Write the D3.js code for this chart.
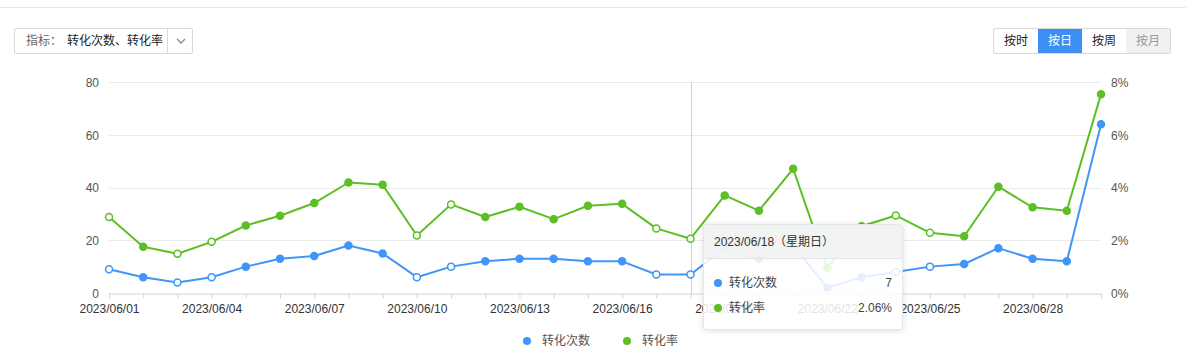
<!DOCTYPE html>
<html lang="zh">
  <head>
    <meta charset="utf-8" />
    <title>转化次数 / 转化率</title>
    <script src="https://d3js.org/d3.v7.min.js"></script>
    <style>
      body {
        margin: 0;
        background: #fff;
        font-family: 'Helvetica Neue', Arial, 'Liberation Sans', 'Noto Sans CJK SC', sans-serif;
      }
      #wrap {
        position: relative;
        width: 1186px;
        height: 352px;
        overflow: hidden;
      }
      svg {
        position: absolute;
        left: 0;
        top: 0;
        display: block;
      }
      .axis text {
        font-size: 12px;
      }
      /* metric selector */
      .select {
        position: absolute;
        left: 14px;
        top: 28px;
        width: 177px;
        height: 24px;
        border: 1px solid #d9d9d9;
        border-radius: 2px;
        font-size: 12px;
        line-height: 24px;
        box-sizing: content-box;
      }
      .select .lbl { position: absolute; left: 11px; color: #666; }
      .select .val { position: absolute; left: 52px; color: #222; }
      .select .sep {
        position: absolute;
        left: 152px;
        top: 0;
        height: 24px;
        border-left: 1px solid #d9d9d9;
      }
      .select svg { left: 160px; top: 7px; }
      /* granularity buttons */
      .btns {
        position: absolute;
        left: 993px;
        top: 28px;
        height: 24px;
        display: flex;
        border: 1px solid #d9d9d9;
        border-radius: 2px;
        font-size: 12px;
      }
      .btns div {
        width: 44px;
        line-height: 24px;
        text-align: center;
        color: #222;
      }
      .btns .on { background: #3d8ff5; color: #fff; }
      .btns .off { background: #f0f1f2; color: #999; }
      /* tooltip */
      .tooltip {
        position: absolute;
        left: 703px;
        top: 224px;
        width: 198px;
        height: 104px;
        background: rgba(255, 255, 255, 0.86);
        border: 1px solid #e6e6e6;
        border-radius: 3px;
        box-shadow: 0 1px 6px rgba(0, 0, 0, 0.12);
        font-size: 12px;
        color: #444;
      }
      .tooltip .head {
        height: 33px;
        line-height: 34px;
        padding-left: 10px;
        background: rgba(240, 242, 242, 0.85);
        border-bottom: 1px solid #e3e3e3;
        color: #333;
      }
      .tooltip .row {
        position: absolute;
        left: 10px;
        right: 10px;
        height: 20px;
        line-height: 20px;
      }
      .tooltip .dot {
        display: inline-block;
        width: 8px;
        height: 8px;
        border-radius: 50%;
        margin-right: 7px;
        vertical-align: -0px;
      }
      .tooltip .num { position: absolute; right: 0; top: 0; }
    </style>
  </head>

  <body>
    <div id="wrap"></div>

    <script>
      /* ----------------------------- DATA ----------------------------- */
      const dates = [
        '2023/06/01', '2023/06/02', '2023/06/03', '2023/06/04', '2023/06/05',
        '2023/06/06', '2023/06/07', '2023/06/08', '2023/06/09', '2023/06/10',
        '2023/06/11', '2023/06/12', '2023/06/13', '2023/06/14', '2023/06/15',
        '2023/06/16', '2023/06/17', '2023/06/18', '2023/06/19', '2023/06/20',
        '2023/06/21', '2023/06/22', '2023/06/23', '2023/06/24', '2023/06/25',
        '2023/06/26', '2023/06/27', '2023/06/28', '2023/06/29', '2023/06/30',
      ];
      // 转化次数 (left axis)
      const counts = [
        9, 6, 4, 6, 10, 13, 14, 18, 15, 6,
        10, 12, 13, 13, 12, 12, 7, 7, 17, 13,
        18, 2, 6, 8, 10, 11, 17, 13, 12, 64,
      ];
      // 转化率 in % (right axis)
      const rates = [
        2.88, 1.75, 1.49, 1.94, 2.56, 2.93, 3.41, 4.19, 4.10, 2.18,
        3.36, 2.88, 3.27, 2.80, 3.31, 3.38, 2.45, 2.06, 3.70, 3.12,
        4.71, 0.96, 2.53, 2.94, 2.28, 2.15, 4.03, 3.25, 3.12, 7.54,
      ];
      // days drawn with hollow markers
      const hollowDates = [
        '2023/06/01', '2023/06/03', '2023/06/04', '2023/06/10', '2023/06/11',
        '2023/06/17', '2023/06/18', '2023/06/24', '2023/06/25',
      ];
      const xTickLabels = [
        '2023/06/01', '2023/06/04', '2023/06/07', '2023/06/10', '2023/06/13',
        '2023/06/16', '2023/06/19', '2023/06/22', '2023/06/25', '2023/06/28',
      ];
      const leftTicks = [0, 20, 40, 60, 80];
      const rightTicks = [0, 2, 4, 6, 8];
      const seriesNames = ['转化次数', '转化率'];
      const hoverDate = '2023/06/18';
      const hoverWeekday = '星期日';

      /* ---------------------------- CONFIG ---------------------------- */
      const W = 1186,
        H = 352,
        m = { t: 82, r: 85, b: 59, l: 109 },
        w = W - m.l - m.r,
        h = H - m.t - m.b;
      const blue = '#3f96f7',
        green = '#5cbf24';

      const wrap = d3.select('#wrap');
      const root = wrap.append('svg').attr('width', W).attr('height', H);

      // thin rule across the top
      root
        .append('line')
        .attr('x1', 0)
        .attr('x2', W)
        .attr('y1', 7.5)
        .attr('y2', 7.5)
        .attr('stroke', '#e8e8e8');

      const svg = root.append('g').attr('transform', `translate(${m.l},${m.t})`);

      /* ---------------------------- SCALES ---------------------------- */
      const x = d3.scalePoint().domain(dates).range([0, w]);
      const yL = d3.scaleLinear().domain([0, 80]).range([h, 0]);
      const yR = d3.scaleLinear().domain([0, 8]).range([h, 0]);

      /* ----------------------------- GRID ----------------------------- */
      svg
        .append('g')
        .selectAll('line')
        .data(leftTicks.slice(1))
        .join('line')
        .attr('x1', 0)
        .attr('x2', w)
        .attr('y1', (d) => Math.round(yL(d)) + 0.5)
        .attr('y2', (d) => Math.round(yL(d)) + 0.5)
        .attr('stroke', '#ebebeb');

      /* ----------------------------- AXES ----------------------------- */
      const xAxis = svg
        .append('g')
        .attr('class', 'axis')
        .attr('transform', `translate(0,${h + 0.5})`)
        .call(d3.axisBottom(x).tickSize(5).tickPadding(6).tickFormat((d) => (xTickLabels.includes(d) ? d : '')));
      xAxis.select('.domain').attr('stroke', '#d4d4d4');
      xAxis.selectAll('.tick line').attr('stroke', '#d4d4d4');
      xAxis.selectAll('.tick text').attr('fill', '#333');

      const lAxis = svg
        .append('g')
        .attr('class', 'axis')
        .call(d3.axisLeft(yL).tickValues(leftTicks).tickSize(0).tickPadding(10));
      lAxis.select('.domain').remove();
      lAxis.selectAll('.tick text').attr('fill', '#555').attr('dy', '0.36em');

      const rAxis = svg
        .append('g')
        .attr('class', 'axis')
        .attr('transform', `translate(${w},0)`)
        .call(
          d3
            .axisRight(yR)
            .tickValues(rightTicks)
            .tickSize(0)
            .tickPadding(10)
            .tickFormat((d) => d + '%'),
        );
      rAxis.select('.domain').remove();
      rAxis.selectAll('.tick text').attr('fill', '#555').attr('dy', '0.36em');

      /* --------------------------- CROSSHAIR --------------------------- */
      svg
        .append('line')
        .attr('x1', Math.round(x(hoverDate)) + 0.5)
        .attr('x2', Math.round(x(hoverDate)) + 0.5)
        .attr('y1', 0)
        .attr('y2', h)
        .attr('stroke', '#cfcfcf');

      /* ----------------------------- LINES ----------------------------- */
      const series = [
        { name: seriesNames[0], color: blue, values: counts, y: yL },
        { name: seriesNames[1], color: green, values: rates, y: yR },
      ];

      series.forEach((s) => {
        const line = d3
          .line()
          .x((d, i) => x(dates[i]))
          .y((d) => s.y(d));

        svg
          .append('path')
          .attr('fill', 'none')
          .attr('stroke', s.color)
          .attr('stroke-width', 2)
          .attr('stroke-linejoin', 'round')
          .attr('d', line(s.values));

        svg
          .append('g')
          .selectAll('circle')
          .data(s.values)
          .join('circle')
          .attr('cx', (d, i) => x(dates[i]))
          .attr('cy', (d) => s.y(d))
          .attr('r', 3.5)
          .attr('stroke', s.color)
          .attr('stroke-width', 1.5)
          .attr('fill', (d, i) => (hollowDates.includes(dates[i]) ? '#fff' : s.color));
      });

      /* ----------------------------- LEGEND ----------------------------- */
      const legend = root.append('g').attr('transform', 'translate(527,341)');
      const lg = legend
        .selectAll('g')
        .data(series)
        .join('g')
        .attr('transform', (_, i) => `translate(${i * 100},0)`);
      lg.append('circle').attr('r', 4).attr('fill', (d) => d.color);
      lg.append('text')
        .attr('x', 15)
        .attr('dy', '0.35em')
        .attr('font-size', 12)
        .attr('fill', '#555')
        .text((d) => d.name);

      /* ---------------------------- CONTROLS ---------------------------- */
      const sel = wrap.append('div').attr('class', 'select');
      sel.append('span').attr('class', 'lbl').text('指标：');
      sel.append('span').attr('class', 'val').text(seriesNames.join('、'));
      sel.append('span').attr('class', 'sep');
      sel
        .append('svg')
        .attr('width', 12)
        .attr('height', 10)
        .append('path')
        .attr('d', 'M2,3 L6,7 L10,3')
        .attr('fill', 'none')
        .attr('stroke', '#888')
        .attr('stroke-width', 1.3);

      const btns = wrap.append('div').attr('class', 'btns');
      [
        ['按时', ''],
        ['按日', 'on'],
        ['按周', ''],
        ['按月', 'off'],
      ].forEach(([t, c]) => btns.append('div').attr('class', c).text(t));

      /* ---------------------------- TOOLTIP ---------------------------- */
      const hi = dates.indexOf(hoverDate);
      const tip = wrap.append('div').attr('class', 'tooltip');
      tip.append('div').attr('class', 'head').text(`${hoverDate}（${hoverWeekday}）`);
      [
        [series[0], String(counts[hi]), 48],
        [series[1], rates[hi].toFixed(2) + '%', 73],
      ].forEach(([s, v, top]) => {
        const row = tip.append('div').attr('class', 'row').style('top', top + 'px');
        row.append('span').attr('class', 'dot').style('background', s.color);
        row.append('span').text(s.name);
        row.append('span').attr('class', 'num').text(v);
      });
    </script>
  </body>
</html>
